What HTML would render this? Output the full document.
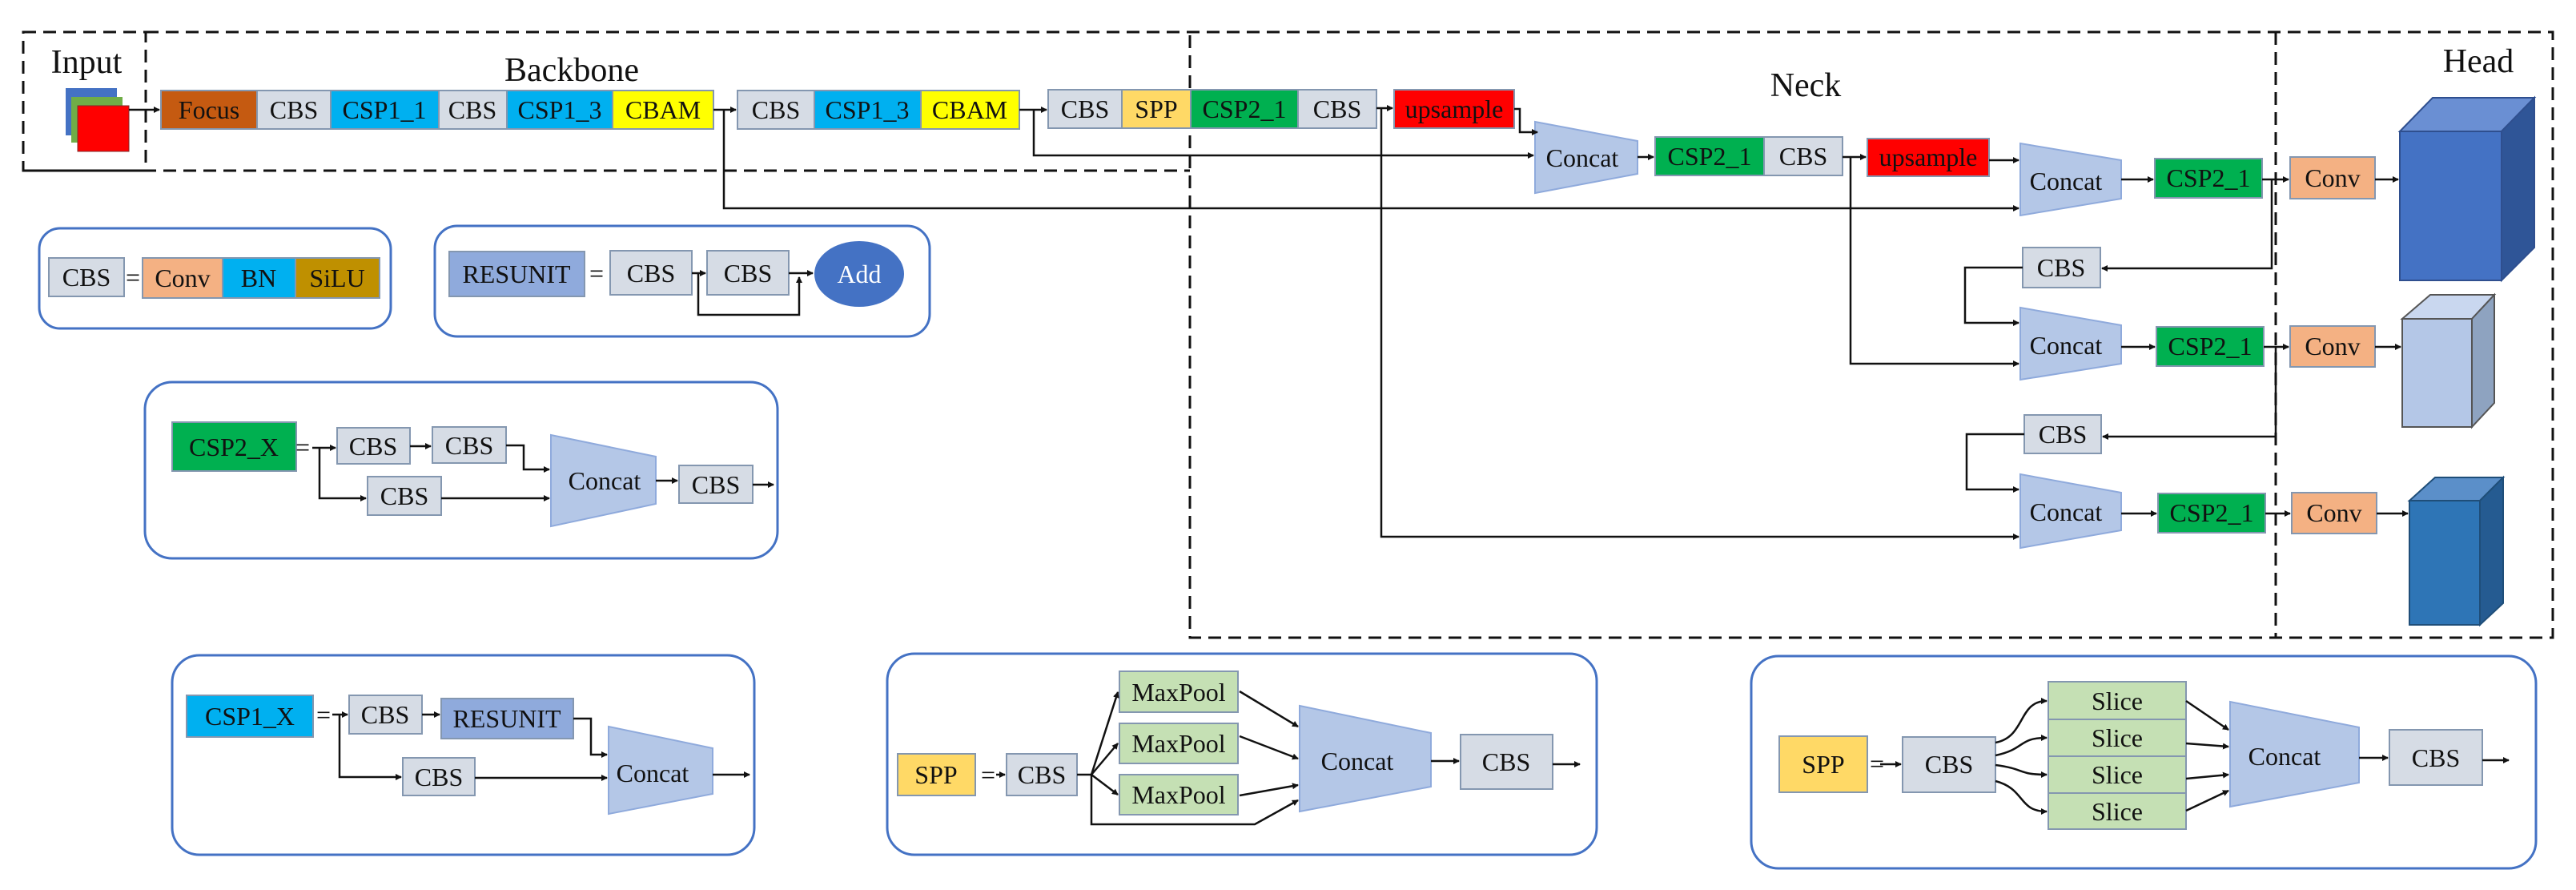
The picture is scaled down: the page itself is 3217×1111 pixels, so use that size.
<!DOCTYPE html>
<html><head><meta charset="utf-8"><style>
html,body{margin:0;padding:0;background:#fff;}
svg{display:block;}
svg text{font-family:"Liberation Serif","Times New Roman","DejaVu Serif",serif;fill:#111;text-anchor:middle;dominant-baseline:central;}
</style></head><body>
<svg width="3217" height="1111" viewBox="0 0 3217 1111" xmlns="http://www.w3.org/2000/svg" font-family="Liberation Serif, serif">
<defs>
<marker id="a" markerWidth="8" markerHeight="8" refX="7" refY="4" orient="auto" markerUnits="userSpaceOnUse"><path d="M0,0 L8,4 L0,8 z" fill="#111"/></marker>
</defs>
<g fill="none" stroke="#111" stroke-width="3" stroke-dasharray="16 9">
<rect x="29" y="40" width="153" height="173"/>
<path d="M182 40 H3188 V796 H1486 V40"/>
<path d="M29 213 H1486"/>
<path d="M2842 40 V796"/>
</g>
<text x="108" y="78" font-size="42">Input</text>
<text x="714" y="88" font-size="42">Backbone</text>
<text x="2255" y="107" font-size="42">Neck</text>
<text x="3095" y="77" font-size="42">Head</text>
<rect x="82" y="110" width="64" height="59" fill="#4472c4"/>
<rect x="89" y="121" width="64" height="57" fill="#70ad47"/>
<rect x="97" y="132" width="64" height="57" fill="#ff0000" stroke="#7f2b2b" stroke-width="1"/>
<g stroke="#8497b0" stroke-width="2">
<rect x="201" y="113" width="120" height="48" fill="#c55a11"/>
<rect x="321" y="113" width="92" height="48" fill="#d6dce5"/>
<rect x="413" y="113" width="135" height="48" fill="#00b0f0"/>
<rect x="548" y="113" width="85" height="48" fill="#d6dce5"/>
<rect x="633" y="113" width="132" height="48" fill="#00b0f0"/>
<rect x="765" y="113" width="126" height="48" fill="#ffff00"/>
<rect x="921" y="113" width="96" height="48" fill="#d6dce5"/>
<rect x="1017" y="113" width="133" height="48" fill="#00b0f0"/>
<rect x="1150" y="113" width="123" height="48" fill="#ffff00"/>
<rect x="1309" y="112" width="92" height="48" fill="#d6dce5"/>
<rect x="1401" y="112" width="86" height="48" fill="#ffd966"/>
<rect x="1487" y="112" width="134" height="48" fill="#00b050"/>
<rect x="1621" y="112" width="98" height="48" fill="#d6dce5"/>
<rect x="1741" y="112" width="150" height="48" fill="#ff0000"/>
<rect x="2067" y="171" width="136" height="48" fill="#00b050"/>
<rect x="2203" y="171" width="98" height="48" fill="#d6dce5"/>
<rect x="2332" y="173" width="152" height="47" fill="#ff0000"/>
<rect x="2691" y="198" width="134" height="49" fill="#00b050"/>
<rect x="2860" y="196" width="106" height="52" fill="#f4b183"/>
<rect x="2526" y="309" width="97" height="50" fill="#d6dce5"/>
<rect x="2693" y="408" width="134" height="49" fill="#00b050"/>
<rect x="2860" y="407" width="106" height="51" fill="#f4b183"/>
<rect x="2528" y="518" width="96" height="48" fill="#d6dce5"/>
<rect x="2695" y="616" width="134" height="49" fill="#00b050"/>
<rect x="2862" y="615" width="106" height="51" fill="#f4b183"/>
</g>
<g font-size="32">
<text x="261" y="137">Focus</text><text x="367" y="137">CBS</text><text x="480" y="137">CSP1_1</text>
<text x="590" y="137">CBS</text><text x="699" y="137">CSP1_3</text><text x="828" y="137">CBAM</text>
<text x="969" y="137">CBS</text><text x="1083" y="137">CSP1_3</text><text x="1211" y="137">CBAM</text>
<text x="1355" y="136">CBS</text><text x="1444" y="136">SPP</text><text x="1554" y="136">CSP2_1</text>
<text x="1670" y="136">CBS</text><text x="1816" y="136">upsample</text>
<text x="2135" y="195">CSP2_1</text><text x="2252" y="195">CBS</text><text x="2408" y="196">upsample</text>
<text x="2758" y="222">CSP2_1</text><text x="2913" y="222">Conv</text>
<text x="2574" y="334">CBS</text>
<text x="2760" y="432">CSP2_1</text><text x="2913" y="432">Conv</text>
<text x="2576" y="542">CBS</text>
<text x="2762" y="640">CSP2_1</text><text x="2915" y="640">Conv</text>
</g>
<g fill="#b4c7e7" stroke="#8faadc" stroke-width="2">
<polygon points="1917,152 2045,176 2045,217 1917,241"/>
<polygon points="2523,179 2649,200 2649,248 2523,269"/>
<polygon points="2523,384 2649,406 2649,454 2523,474"/>
<polygon points="2523,592 2649,615 2649,662 2523,684"/>
</g>
<g font-size="32">
<text x="1976" y="197">Concat</text><text x="2580" y="226">Concat</text>
<text x="2580" y="431">Concat</text><text x="2580" y="639">Concat</text>
</g>
<polygon points="2997,164 3038,122 3165,122 3124,164" fill="#6a8fd3" stroke="#2f4f8f" stroke-width="2"/>
<polygon points="3124,164 3165,122 3165,309 3124,350" fill="#2f5597" stroke="#2f4f8f" stroke-width="2"/>
<rect x="2997" y="164" width="127" height="186" fill="#4472c4" stroke="#2f4f8f" stroke-width="2"/>
<polygon points="3000,398 3035,368 3115,368 3087,398" fill="#c9d7ef" stroke="#555" stroke-width="2"/>
<polygon points="3087,398 3115,368 3115,503 3087,533" fill="#8ea3c0" stroke="#555" stroke-width="2"/>
<rect x="3000" y="398" width="87" height="135" fill="#b4c7e7" stroke="#555" stroke-width="2"/>
<polygon points="3009,625 3041,596 3126,596 3097,625" fill="#5b8fc9" stroke="#1f4e79" stroke-width="2"/>
<polygon points="3097,625 3126,596 3126,753 3097,780" fill="#255b91" stroke="#1f4e79" stroke-width="2"/>
<rect x="3009" y="625" width="88" height="155" fill="#2e75b6" stroke="#1f4e79" stroke-width="2"/>
<g fill="none" stroke="#111" stroke-width="2.5" marker-end="url(#a)">
<path d="M161 137 H199"/>
<path d="M891 137 H919"/>
<path d="M904 137 V260 H2521"/>
<path d="M1273 137 H1307"/>
<path d="M1291 137 V194 H1915"/>
<path d="M1719 135 H1739"/>
<path d="M1725 135 V670 H2521"/>
<path d="M1891 136 H1898 V165 H1920"/>
<path d="M2045 196 H2065"/>
<path d="M2301 196 H2330"/>
<path d="M2311 196 V454 H2521"/>
<path d="M2484 200 H2521"/>
<path d="M2649 224 H2689"/>
<path d="M2825 224 H2858"/>
<path d="M2837 224 V335 H2625"/>
<path d="M2966 224 H2995"/>
<path d="M2526 334 H2454 V403 H2521"/>
<path d="M2649 433 H2691"/>
<path d="M2827 433 H2858"/>
<path d="M2842 433 V545 H2626"/>
<path d="M2966 433 H2998"/>
<path d="M2528 542 H2456 V611 H2521"/>
<path d="M2649 641 H2693"/>
<path d="M2829 641 H2860"/>
<path d="M2968 641 H3007"/>
</g>
<g fill="none" stroke="#4472c4" stroke-width="3">
<rect x="49" y="285" width="439" height="125" rx="26"/>
<rect x="543" y="282" width="618" height="138" rx="28"/>
<rect x="181" y="477" width="790" height="220" rx="34"/>
<rect x="215" y="818" width="727" height="249" rx="34"/>
<rect x="1108" y="816" width="886" height="251" rx="34"/>
<rect x="2187" y="819" width="980" height="265" rx="34"/>
</g>
<g stroke="#8497b0" stroke-width="2">
<rect x="61" y="322" width="94" height="48" fill="#d6dce5"/>
<rect x="178" y="322" width="100" height="50" fill="#f4b183"/>
<rect x="278" y="322" width="91" height="50" fill="#00b0f0"/>
<rect x="369" y="322" width="105" height="50" fill="#bf9000"/>
<rect x="561" y="314" width="169" height="56" fill="#8faadc"/>
<rect x="762" y="313" width="102" height="55" fill="#d6dce5"/>
<rect x="883" y="313" width="102" height="55" fill="#d6dce5"/>
<rect x="215" y="527" width="155" height="61" fill="#00b050"/>
<rect x="421" y="534" width="91" height="45" fill="#d6dce5"/>
<rect x="540" y="533" width="92" height="45" fill="#d6dce5"/>
<rect x="459" y="595" width="92" height="48" fill="#d6dce5"/>
<rect x="848" y="581" width="92" height="47" fill="#d6dce5"/>
<rect x="233" y="868" width="158" height="52" fill="#00b0f0"/>
<rect x="436" y="868" width="91" height="48" fill="#d6dce5"/>
<rect x="551" y="872" width="165" height="50" fill="#8faadc"/>
<rect x="503" y="946" width="90" height="47" fill="#d6dce5"/>
<rect x="1121" y="941" width="97" height="52" fill="#ffd966"/>
<rect x="1257" y="941" width="88" height="52" fill="#d6dce5"/>
<rect x="1398" y="838" width="148" height="51" fill="#c5e0b4"/>
<rect x="1398" y="903" width="148" height="50" fill="#c5e0b4"/>
<rect x="1398" y="967" width="148" height="50" fill="#c5e0b4"/>
<rect x="1824" y="917" width="115" height="68" fill="#d6dce5"/>
<rect x="2222" y="919" width="110" height="70" fill="#ffd966"/>
<rect x="2376" y="920" width="116" height="69" fill="#d6dce5"/>
<rect x="2558" y="851" width="172" height="47" fill="#c5e0b4"/>
<rect x="2558" y="898" width="172" height="46" fill="#c5e0b4"/>
<rect x="2558" y="944" width="172" height="46" fill="#c5e0b4"/>
<rect x="2558" y="990" width="172" height="45" fill="#c5e0b4"/>
<rect x="2984" y="911" width="116" height="69" fill="#d6dce5"/>
</g>
<ellipse cx="1073" cy="342" rx="56" ry="41" fill="#4472c4"/>
<g fill="#b4c7e7" stroke="#8faadc" stroke-width="2">
<polygon points="688,543 819,570 819,629 688,657"/>
<polygon points="760,907 890,934 890,991 760,1016"/>
<polygon points="1623,881 1787,915 1787,982 1623,1013"/>
<polygon points="2785,876 2946,908 2946,977 2785,1007"/>
</g>
<g font-size="32">
<text x="108" y="346">CBS</text><text x="166" y="346">=</text><text x="228" y="347">Conv</text>
<text x="323" y="347">BN</text><text x="421" y="347">SiLU</text>
<text x="645" y="342">RESUNIT</text><text x="745" y="341">=</text><text x="813" y="341">CBS</text><text x="934" y="341">CBS</text>
<text x="1073" y="342" style="fill:#fff">Add</text>
<text x="292" y="558">CSP2_X</text><text x="378" y="558">=</text>
<text x="466" y="557">CBS</text><text x="586" y="556">CBS</text><text x="505" y="619">CBS</text>
<text x="755" y="600">Concat</text><text x="894" y="605">CBS</text>
<text x="312" y="894">CSP1_X</text><text x="404" y="892">=</text>
<text x="481" y="892">CBS</text><text x="633" y="897">RESUNIT</text><text x="548" y="970">CBS</text>
<text x="815" y="965">Concat</text>
<text x="1169" y="967">SPP</text><text x="1234" y="967">=</text><text x="1301" y="967">CBS</text>
<text x="1472" y="864">MaxPool</text><text x="1472" y="928">MaxPool</text><text x="1472" y="992">MaxPool</text>
<text x="1695" y="950">Concat</text><text x="1881" y="951">CBS</text>
<text x="2277" y="954">SPP</text><text x="2344" y="953">=</text><text x="2434" y="954">CBS</text>
<text x="2644" y="875">Slice</text><text x="2644" y="921">Slice</text><text x="2644" y="967">Slice</text><text x="2644" y="1013">Slice</text>
<text x="2853" y="944">Concat</text><text x="3042" y="946">CBS</text>
</g>
<g fill="none" stroke="#111" stroke-width="2.5" marker-end="url(#a)">
<path d="M864 341 H881"/>
<path d="M872 341 V393 H998 V346"/>
<path d="M985 341 H1015"/>
<path d="M390 559 H419"/>
<path d="M399 559 V622 H457"/>
<path d="M512 557 H538"/>
<path d="M632 556 H654 V586 H686"/>
<path d="M551 622 H686"/>
<path d="M819 600 H846"/>
<path d="M940 605 H966"/>
<path d="M415 892 H434"/>
<path d="M424 892 V970 H501"/>
<path d="M527 892 H549"/>
<path d="M716 897 H738 V942 H758"/>
<path d="M593 971 H758"/>
<path d="M890 967 H936"/>
<path d="M1244 967 H1255"/>
<path d="M1345 967 L1363 967 L1396 864"/>
<path d="M1363 967 L1396 928"/>
<path d="M1363 967 L1396 992"/>
<path d="M1363 967 V1029 H1567 L1621 999"/>
<path d="M1548 863 L1621 907"/>
<path d="M1548 919 L1621 947"/>
<path d="M1548 993 L1621 980"/>
<path d="M1787 950 H1822"/>
<path d="M1939 954 H1973"/>
<path d="M2348 954 H2374"/>
<path d="M2492 927 C2530 920 2520 875 2556 875"/>
<path d="M2492 943 C2530 935 2520 921 2556 921"/>
<path d="M2492 955 C2530 960 2520 967 2556 967"/>
<path d="M2492 975 C2530 985 2520 1013 2556 1013"/>
<path d="M2730 875 L2783 911"/>
<path d="M2730 928 L2783 932"/>
<path d="M2730 972 L2783 967"/>
<path d="M2730 1012 L2783 987"/>
<path d="M2946 946 H2982"/>
<path d="M3100 949 H3133"/>
</g>
</svg>
</body></html>
